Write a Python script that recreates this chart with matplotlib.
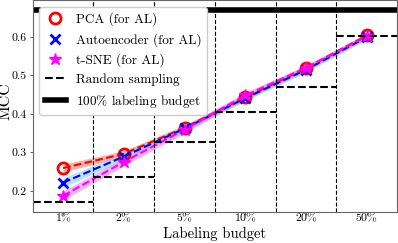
import matplotlib
matplotlib.use("Agg")
import matplotlib.pyplot as plt
import numpy as np

plt.rcParams['font.family'] = ['cmr10', 'DejaVu Serif']
plt.rcParams['mathtext.fontset'] = 'cm'
plt.rcParams['axes.formatter.use_mathtext'] = True
plt.rcParams['axes.unicode_minus'] = False

budgets = ["1%", "2%", "5%", "10%", "20%", "50%"]
pca = [0.259, 0.296, 0.364, 0.443, 0.519, 0.604]
pca_err = [0.010, 0.008, 0.007, 0.007, 0.007, 0.006]
ae = [0.221, 0.289, 0.362, 0.441, 0.515, 0.600]
ae_err = [0.012, 0.010, 0.008, 0.007, 0.007, 0.006]
tsne = [0.187, 0.275, 0.359, 0.448, 0.520, 0.602]
tsne_err = [0.012, 0.010, 0.009, 0.008, 0.007, 0.006]
random_sampling = [0.170, 0.235, 0.328, 0.405, 0.470, 0.603]
full_budget = 0.670

fig, ax = plt.subplots(figsize=(3.98, 2.43), dpi=100)
x = np.arange(len(budgets))

series = [
    (pca, pca_err, 'red', 'salmon', 'o', 'PCA (for AL)'),
    (ae, ae_err, 'blue', 'lightskyblue', 'x', 'Autoencoder (for AL)'),
    (tsne, tsne_err, 'magenta', 'violet', '*', 't-SNE (for AL)'),
]
handles = []
for vals, err, c, fc, m, lab in series:
    v = np.array(vals); e = np.array(err)
    ax.fill_between(x, v - e, v + e, color=fc, alpha=0.6, lw=0)
    ax.plot(x, v, color=c, ls='--', lw=1.5)
    if m == 'o':
        h, = ax.plot(x, v, ls='none', marker='o', ms=8, mfc='none', mec=c, mew=2, label=lab)
    elif m == 'x':
        h, = ax.plot(x, v, ls='none', marker='x', ms=7, mec=c, mew=2, label=lab)
    else:
        h, = ax.plot(x, v, ls='none', marker='*', ms=9, color=c, label=lab)
    handles.append(h)

h_rs = None
for i, r in enumerate(random_sampling):
    h, = ax.plot([i - 0.5, i + 0.5], [r, r], color='black', ls='--', lw=1.5)
    if h_rs is None:
        h_rs = h
h_rs.set_label('Random sampling')
for i in range(len(budgets) - 1):
    ax.axvline(i + 0.5, color='black', ls='--', lw=0.8)

h_full = ax.axhline(full_budget, color='black', lw=4, label=r'100$\%$ labeling budget')

ax.set_xlim(-0.5, len(budgets) - 0.5)
ax.set_ylim(0.145, 0.695)
ax.set_xticks(x)
ax.set_xticklabels(["$" + b.replace("%", r"\%") + "$" for b in budgets])
ax.set_yticks([0.2, 0.3, 0.4, 0.5, 0.6])
ax.set_yticklabels(["0.2", "0.3", "0.4", "0.5", "0.6"])
ax.tick_params(labelsize=8.5, length=2.5, pad=2, color='0.4')
ax.tick_params(axis='x', pad=-3.5)
ax.set_xlabel("Labeling budget", fontsize=10.5)
ax.xaxis.set_label_coords(0.5, -0.072)
ax.set_ylabel("MCC", fontsize=11.5)
ax.yaxis.set_label_coords(-0.055, 0.525)
for s in ax.spines.values():
    s.set_color('0.4')

ax.legend(handles=handles + [h_rs, h_full], loc='upper left', fontsize=9.5,
          framealpha=1, borderaxespad=0.5, handlelength=1.6)

fig.subplots_adjust(left=0.082, right=0.998, top=0.998, bottom=0.128)
fig.savefig("out.png", dpi=100)
